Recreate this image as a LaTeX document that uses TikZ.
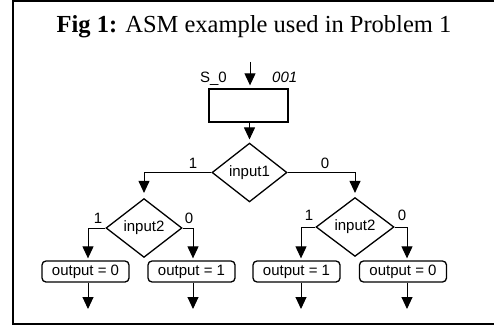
\documentclass[tikz,border=0pt]{standalone}
\usepackage{fontspec}
\setmainfont{Liberation Serif}
\newfontfamily\arialf{Liberation Sans}
\usetikzlibrary{shapes.geometric,arrows.meta}
\begin{document}
\begin{tikzpicture}[x=1pt,y=-1pt,
  conn/.style={line width=1pt},
  arr/.style={conn,-{Triangle[width=11pt,length=12pt]}},
  dec/.style={draw,diamond,line width=1.3pt,inner sep=1pt,font=\arialf\fontsize{15}{17}\selectfont},
  outbox/.style={draw,rectangle,rounded corners=4pt,line width=1.3pt,minimum width=87pt,minimum height=21pt,inner sep=0pt,font=\arialf\fontsize{15}{17}\selectfont},
  lab/.style={font=\arialf\fontsize{15}{17}\selectfont,inner sep=0pt}]
\useasboundingbox (0,0) rectangle (494,326);
\draw[line width=2pt] (500,1) -- (13,1) -- (13,324) -- (500,324);
\node[anchor=base,inner sep=0pt,font=\fontsize{24.5}{28}\selectfont] (title) at (254,33) {\textbf{Fig 1:} ASM example used in Problem 1};
% state box
\node[draw,rectangle,line width=1.3pt,minimum width=79pt,minimum height=33pt,inner sep=0pt] (s) at (248.5,105.5) {};
\coordinate (entry) at (250,62);
\node[lab,anchor=base east] (sname) at (227,83) {S\_0};
\node[lab,anchor=base west] (scode) at (272,83) {\itshape 001};
\draw[arr,shorten >=3pt] (entry) -- (entry |- s.north);
% decisions
\node[dec,minimum width=75pt,minimum height=49pt] (d1) at (249.5,172.5) {input1};
\node[dec,minimum width=76pt,minimum height=48pt] (d2) at (144,228) {input2};
\node[dec,minimum width=78pt,minimum height=49pt] (d3) at (355,227) {input2};
\draw[arr,shorten >=3pt] (s.south -| d1.north) -- (d1.north);
\draw[arr,shorten >=5pt] (d1.west) -| (d2.north);
\draw[arr,shorten >=4pt] (d1.east) -| (d3.north);
\node[lab] (l1) at (193,163) {1};
\node[lab] (l0) at (325,163) {0};
% outputs
\node[outbox] (o1) at (85.5,271.5) {output = 0};
\node[outbox] (o2) at (191.5,271.5) {output = 1};
\node[outbox] (o3) at (296.5,271.5) {output = 1};
\node[outbox] (o4) at (403,271.5) {output = 0};
\coordinate (b1) at (88,0);
\coordinate (b2) at (193,0);
\coordinate (b3) at (301,0);
\coordinate (b4) at (407,0);
\draw[arr,shorten >=2pt] (d2.west) -| (b1 |- o1.north);
\draw[arr,shorten >=2pt] (d2.east) -| (b2 |- o2.north);
\draw[arr,shorten >=2pt] (d3.west) -| (b3 |- o3.north);
\draw[arr,shorten >=2pt] (d3.east) -| (b4 |- o4.north);
\node[lab] (l21) at (98,218) {1};
\node[lab] (l20) at (189,218) {0};
\node[lab] (l31) at (309,215) {1};
\node[lab] (l30) at (402,215) {0};
\coordinate (e1) at (88,309);
\coordinate (e2) at (193,309);
\coordinate (e3) at (301,309);
\coordinate (e4) at (407,309);
\draw[arr] (b1 |- o1.south) -- (e1);
\draw[arr] (b2 |- o2.south) -- (e2);
\draw[arr] (b3 |- o3.south) -- (e3);
\draw[arr] (b4 |- o4.south) -- (e4);
\end{tikzpicture}
\end{document}
